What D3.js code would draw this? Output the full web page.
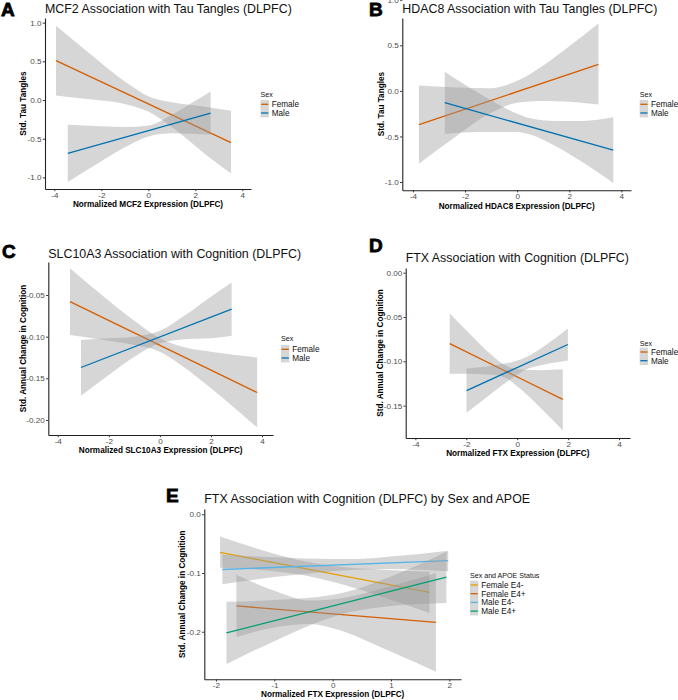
<!DOCTYPE html>
<html>
<head>
<meta charset="utf-8">
<title>Sex-stratified associations (DLPFC)</title>
<script src="https://d3js.org/d3.v7.min.js"></script>
<style>
  body { margin: 0; background: #fff; }
  svg text { font-family: "Liberation Sans", Arial, sans-serif; }
</style>
</head>
<body>
<div id="chart"></div>
<script>
// ---- data ----
const sexGroups = ["Female", "Male"];
const sexColors = ["#D55E00", "#0072B2"];

// A: MCF2 vs tau tangles
const mcf2LineX = [[-3.93, 3.52], [-3.43, 2.65]];
const mcf2LineY = [[0.51, -0.55], [-0.69, -0.17]];
const mcf2BandX = [[-3.93, -2.5, -1, 0, 1, 2.5, 3.52], [-3.43, -2, -1, 0, 1, 2, 2.65]];
const mcf2BandHi = [[0.96, 0.60, 0.24, 0.05, -0.03, -0.09, -0.14], [-0.32, -0.34, -0.35, -0.33, -0.19, -0.01, 0.11]];
const mcf2BandLo = [[0.06, 0.01, -0.05, -0.15, -0.35, -0.72, -0.95], [-1.06, -0.79, -0.61, -0.47, -0.43, -0.44, -0.45]];

// B: HDAC8 vs tau tangles
const hdac8LineX = [[-3.77, 3.12], [-2.78, 3.69]];
const hdac8LineY = [[-0.37, 0.29], [-0.13, -0.65]];
const hdac8BandX = [[-3.77, -2.5, -1, 0, 1, 2, 3.12], [-2.78, -1.5, 0, 0.5, 1.5, 2.5, 3.69]];
const hdac8BandHi = [[0.06, 0.04, 0.03, 0.11, 0.28, 0.49, 0.74], [0.21, -0.02, -0.25, -0.30, -0.33, -0.33, -0.29]];
const hdac8BandLo = [[-0.80, -0.53, -0.24, -0.13, -0.11, -0.12, -0.15], [-0.47, -0.45, -0.45, -0.48, -0.61, -0.78, -1.01]];

// C: SLC10A3 vs cognition
const slcLineX = [[-3.52, 3.81], [-3.09, 2.81]];
const slcLineY = [[-0.058, -0.167], [-0.137, -0.067]];
const slcBandX = [[-3.52, -2, -1, 0, 1, 2, 3.81], [-3.09, -2, -1, 0, 1, 2, 2.81]];
const slcBandHi = [[-0.018, -0.057, -0.081, -0.102, -0.113, -0.118, -0.125], [-0.104, -0.102, -0.100, -0.093, -0.074, -0.052, -0.035]];
const slcBandLo = [[-0.098, -0.105, -0.110, -0.118, -0.138, -0.162, -0.209], [-0.171, -0.146, -0.124, -0.108, -0.103, -0.102, -0.099]];

// D: FTX vs cognition
const ftxLineX = [[-2.65, 1.79], [-1.99, 1.99]];
const ftxLineY = [[-0.080, -0.143], [-0.133, -0.081]];
const ftxBandX = [[-2.65, -2, -1, -0.43, 0, 1, 1.79], [-1.99, -1, 0, 0.36, 1, 1.99]];
const ftxBandHi = [[-0.046, -0.065, -0.093, -0.105, -0.109, -0.110, -0.109], [-0.108, -0.105, -0.099, -0.095, -0.084, -0.063]];
const ftxBandLo = [[-0.114, -0.114, -0.115, -0.119, -0.128, -0.155, -0.178], [-0.158, -0.136, -0.115, -0.109, -0.104, -0.099]];

// E: FTX vs cognition by sex and APOE
const apoeGroups = ["Female E4-", "Female E4+", "Male E4-", "Male E4+"];
const apoeColors = ["#E69F00", "#D55E00", "#56B4E9", "#009E73"];
const apoeLineX = [[-1.93, 1.66], [-1.65, 1.77], [-1.89, 1.98], [-1.82, 1.95]];
const apoeLineY = [[-0.065, -0.133], [-0.156, -0.184], [-0.094, -0.079], [-0.202, -0.107]];
const apoeBandX = [[-1.93, -1, -0.43, 0, 0.8, 1.66], [-1.65, -1, -0.37, 0, 1, 1.77],
                   [-1.89, -1, 0, 0.46, 1, 1.98], [-1.82, -1, 0, 0.28, 1, 1.95]];
const apoeBandHi = [[-0.038, -0.067, -0.081, -0.088, -0.094, -0.098], [-0.103, -0.130, -0.147, -0.145, -0.122, -0.100],
                    [-0.069, -0.073, -0.076, -0.076, -0.072, -0.062], [-0.149, -0.146, -0.137, -0.131, -0.106, -0.064]];
const apoeBandLo = [[-0.091, -0.097, -0.105, -0.115, -0.139, -0.168], [-0.209, -0.193, -0.187, -0.194, -0.234, -0.268],
                    [-0.119, -0.107, -0.097, -0.094, -0.093, -0.097], [-0.255, -0.216, -0.175, -0.167, -0.156, -0.151]];

// tick labels
const xTicks4 = [-4, -2, 0, 2, 4];
const xTicks2 = [-2, -1, 0, 1, 2];
const yTicksTau = [-1, -0.5, 0, 0.5, 1];
const yTicksSlc = [-0.20, -0.15, -0.10, -0.05];
const yTicksFtx = [-0.15, -0.10, -0.05, 0];
const yTicksApoe = [-0.2, -0.1, 0];

// ---- drawing ----
const svg = d3.select("#chart").append("svg")
    .attr("width", 678)
    .attr("height", 700);

function drawPanel(p) {
    const x = d3.scaleLinear().domain(p.xDomain).range([p.left, p.right]);
    const y = d3.scaleLinear().domain(p.yDomain).range([p.bottom, p.top]);
    const g = svg.append("g");

    const area = d3.area()
        .x(d => x(d.x)).y0(d => y(d.lo)).y1(d => y(d.hi))
        .curve(d3.curveMonotoneX);
    const line = d3.line().x(d => x(d.x)).y(d => y(d.y));

    // ribbon then fit line, group by group (like geom_smooth)
    p.groups.forEach((name, i) => {
        const band = p.bandX[i].map((v, j) => ({ x: v, lo: p.bandLo[i][j], hi: p.bandHi[i][j] }));
        g.append("path").datum(band)
            .attr("d", area)
            .attr("fill", "#999999")
            .attr("fill-opacity", 0.4);
        const pts = p.lineX[i].map((v, j) => ({ x: v, y: p.lineY[i][j] }));
        g.append("path").datum(pts)
            .attr("d", line)
            .attr("fill", "none")
            .attr("stroke", p.colors[i])
            .attr("stroke-width", 1.3);
    });

    // axes
    const xAxis = g.append("g")
        .attr("transform", "translate(0," + p.bottom + ")")
        .call(d3.axisBottom(x).tickValues(p.xTicks).tickFormat(d => String(d))
            .tickSize(2.2).tickSizeOuter(0).tickPadding(1.1));
    const yAxis = g.append("g")
        .attr("transform", "translate(" + p.left + ",0)")
        .call(d3.axisLeft(y).tickValues(p.yTicks).tickFormat(d => d.toFixed(p.yDigits))
            .tickSize(2.2).tickSizeOuter(0).tickPadding(1.3));
    [xAxis, yAxis].forEach(a => {
        a.attr("font-size", 8.1).attr("font-family", null);
        a.select(".domain").attr("stroke", "#222").attr("stroke-width", 1.1);
        a.selectAll(".tick line").attr("stroke", "#333");
        a.selectAll(".tick text").attr("fill", "#4d4d4d");
    });

    // titles
    g.append("text")
        .attr("x", p.letterX).attr("y", p.letterY)
        .attr("font-size", 19).attr("font-weight", "bold")
        .attr("stroke", "#000").attr("stroke-width", 0.8)
        .text(p.letter);
    g.append("text")
        .attr("x", p.left).attr("y", p.titleY)
        .attr("font-size", 12.4).attr("fill", "#111")
        .text(p.title);
    g.append("text")
        .attr("x", (p.left + p.right) / 2).attr("y", p.xTitleY)
        .attr("text-anchor", "middle")
        .attr("font-size", 8.2).attr("font-weight", "bold")
        .text(p.xTitle);
    g.append("text")
        .attr("transform", "translate(" + p.yTitleX + "," + (p.top + p.bottom) / 2 + ") rotate(-90)")
        .attr("text-anchor", "middle").attr("dy", "0.35em")
        .attr("font-size", 8.2).attr("font-weight", "bold")
        .text(p.yTitle);

    // legend
    const lg = g.append("g").attr("transform", "translate(" + p.legendX + "," + p.legendY + ")");
    lg.append("text")
        .attr("x", 0).attr("y", 0).attr("dy", "0.35em")
        .attr("font-size", 7.1).attr("fill", "#111")
        .text(p.legendTitle);
    const keyH = 8.7, keyW = 8.4;
    const item = lg.selectAll(".item")
        .data(p.groups)
        .enter().append("g")
        .attr("class", "item")
        .attr("transform", (d, i) => "translate(0," + (p.legendGap + i * keyH) + ")");
    item.append("rect")
        .attr("x", 0).attr("y", -keyH / 2)
        .attr("width", keyW).attr("height", keyH)
        .attr("fill", "#999999").attr("fill-opacity", 0.4);
    item.append("line")
        .attr("x1", 0.6).attr("x2", keyW - 0.6)
        .attr("stroke", (d, i) => p.colors[i]).attr("stroke-width", 1.3);
    item.append("text")
        .attr("x", keyW + 2.8).attr("dy", "0.35em")
        .attr("font-size", 8.2).attr("fill", "#111")
        .text(d => d);
}

drawPanel({
    letter: "A", letterX: 1, letterY: 16,
    title: "MCF2 Association with Tau Tangles (DLPFC)", titleY: 12.7,
    xTitle: "Normalized MCF2 Expression (DLPFC)", xTitleY: 207.2,
    yTitle: "Std. Tau Tangles", yTitleX: 23,
    left: 45, right: 251, top: 18, bottom: 189,
    xDomain: [-4.4, 4.37], yDomain: [-1.15, 1.06],
    xTicks: xTicks4, yTicks: yTicksTau, yDigits: 1,
    groups: sexGroups, colors: sexColors,
    lineX: mcf2LineX, lineY: mcf2LineY, bandX: mcf2BandX, bandLo: mcf2BandLo, bandHi: mcf2BandHi,
    legendTitle: "Sex", legendX: 260.5, legendY: 94.3, legendGap: 10
});

drawPanel({
    letter: "B", letterX: 369, letterY: 16,
    title: "HDAC8 Association with Tau Tangles (DLPFC)", titleY: 13,
    xTitle: "Normalized HDAC8 Expression (DLPFC)", xTitleY: 208.6,
    yTitle: "Std. Tau Tangles", yTitleX: 381,
    left: 402.3, right: 631, top: 18, bottom: 190.2,
    xDomain: [-4.41, 4.37], yDomain: [-1.09, 0.80],
    xTicks: xTicks4, yTicks: yTicksTau, yDigits: 1,
    groups: sexGroups, colors: sexColors,
    lineX: hdac8LineX, lineY: hdac8LineY, bandX: hdac8BandX, bandLo: hdac8BandLo, bandHi: hdac8BandHi,
    legendTitle: "Sex", legendX: 639.7, legendY: 94.3, legendGap: 10
});

drawPanel({
    letter: "C", letterX: 2, letterY: 258.3,
    title: "SLC10A3 Association with Cognition (DLPFC)", titleY: 257.7,
    xTitle: "Normalized SLC10A3 Expression (DLPFC)", xTitleY: 452.9,
    yTitle: "Std. Annual Change in Cognition", yTitleX: 22.7,
    left: 48.3, right: 273, top: 262, bottom: 435,
    xDomain: [-4.37, 4.43], yDomain: [-0.218, -0.0104],
    xTicks: xTicks4, yTicks: yTicksSlc, yDigits: 2,
    groups: sexGroups, colors: sexColors,
    lineX: slcLineX, lineY: slcLineY, bandX: slcBandX, bandLo: slcBandLo, bandHi: slcBandHi,
    legendTitle: "Sex", legendX: 281, legendY: 338.3, legendGap: 11
});

drawPanel({
    letter: "D", letterX: 369, letterY: 251.7,
    title: "FTX Association with Cognition (DLPFC)", titleY: 261.7,
    xTitle: "Normalized FTX Expression (DLPFC)", xTitleY: 455.6,
    yTitle: "Std. Annual Change in Cognition", yTitleX: 379.7,
    left: 405.7, right: 630, top: 268, bottom: 438,
    xDomain: [-4.38, 4.43], yDomain: [-0.1865, 0.0053],
    xTicks: xTicks4, yTicks: yTicksFtx, yDigits: 2,
    groups: sexGroups, colors: sexColors,
    lineX: ftxLineX, lineY: ftxLineY, bandX: ftxBandX, bandLo: ftxBandLo, bandHi: ftxBandHi,
    legendTitle: "Sex", legendX: 639.7, legendY: 343.3, legendGap: 8.7
});

drawPanel({
    letter: "E", letterX: 166, letterY: 501.7,
    title: "FTX Association with Cognition (DLPFC) by Sex and APOE", titleY: 503.3,
    xTitle: "Normalized FTX Expression (DLPFC)", xTitleY: 696.9,
    yTitle: "Std. Annual Change in Cognition", yTitleX: 181.7,
    left: 204.3, right: 461, top: 509, bottom: 679.3,
    xDomain: [-2.2, 2.2], yDomain: [-0.281, 0.009],
    xTicks: xTicks2, yTicks: yTicksApoe, yDigits: 1,
    groups: apoeGroups, colors: apoeColors,
    lineX: apoeLineX, lineY: apoeLineY, bandX: apoeBandX, bandLo: apoeBandLo, bandHi: apoeBandHi,
    legendTitle: "Sex and APOE Status", legendX: 470, legendY: 575, legendGap: 10
});
</script>
</body>
</html>
